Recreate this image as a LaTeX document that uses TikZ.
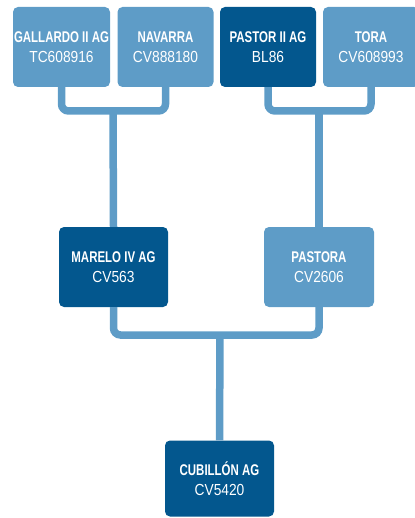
\documentclass[tikz,border=0pt]{standalone}
\usepackage{fontspec}
\setmainfont{Liberation Sans}
\newfontfamily\namefont[FakeStretch=0.74]{Liberation Sans Bold}
\newfontfamily\codefont[FakeStretch=0.86]{Liberation Sans}
\definecolor{lightblue}{RGB}{94,156,199}
\definecolor{darkblue}{RGB}{3,87,142}
\tikzset{
  box/.style={rounded corners=5pt, inner sep=0pt, text=white, align=center, minimum height=80pt,
    font={\fontsize{16}{20}\selectfont}},
  lbox/.style={box, fill=lightblue},
  dbox/.style={box, fill=darkblue},
  link/.style={draw=lightblue, line width=7.5pt, rounded corners=7pt},
}
\newcommand{\horse}[2]{{\fontsize{15.5}{20}\namefont #1}\\{\fontsize{16}{20}\codefont #2}}
\begin{document}
\begin{tikzpicture}[x=1pt,y=-1pt]
\useasboundingbox (0,0) rectangle (414,518);
\coordinate (j1) at (113,111);
\coordinate (j2) at (319,111);
\coordinate (j3) at (220,335);
\node[lbox, minimum width=97pt] (g) at (61.5,47) {\horse{GALLARDO II AG}{TC608916}};
\node[lbox, minimum width=96pt] (n) at (165.5,47) {\horse{NAVARRA}{CV888180}};
\node[dbox, minimum width=96pt] (p) at (268,47) {\horse{PASTOR II AG}{BL86}};
\node[lbox, minimum width=96pt] (t) at (371,47) {\horse{TORA}{CV608993}};
\node[dbox, minimum width=109pt] (m) at (113.5,267) {\horse{MARELO IV AG}{CV563}};
\node[lbox, minimum width=110pt] (ps) at (319,267) {\horse{PASTORA}{CV2606}};
\node[dbox, minimum width=109pt, minimum height=76pt] (c) at (219.5,478.5) {\horse{CUBILLÓN AG}{CV5420}};
\draw[link] (g.south) -- (g.south |- j1) -- (n.south |- j1) -- (n.south);
\draw[link] (j1) -- (m.north);
\draw[link] (p.south) -- (p.south |- j2) -- (t.south |- j2) -- (t.south);
\draw[link] (j2) -- (ps.north);
\draw[link] (m.south) -- (m.south |- j3) -- (ps.south |- j3) -- (ps.south);
\draw[link] (j3) -- (c.north);
\end{tikzpicture}
\end{document}
